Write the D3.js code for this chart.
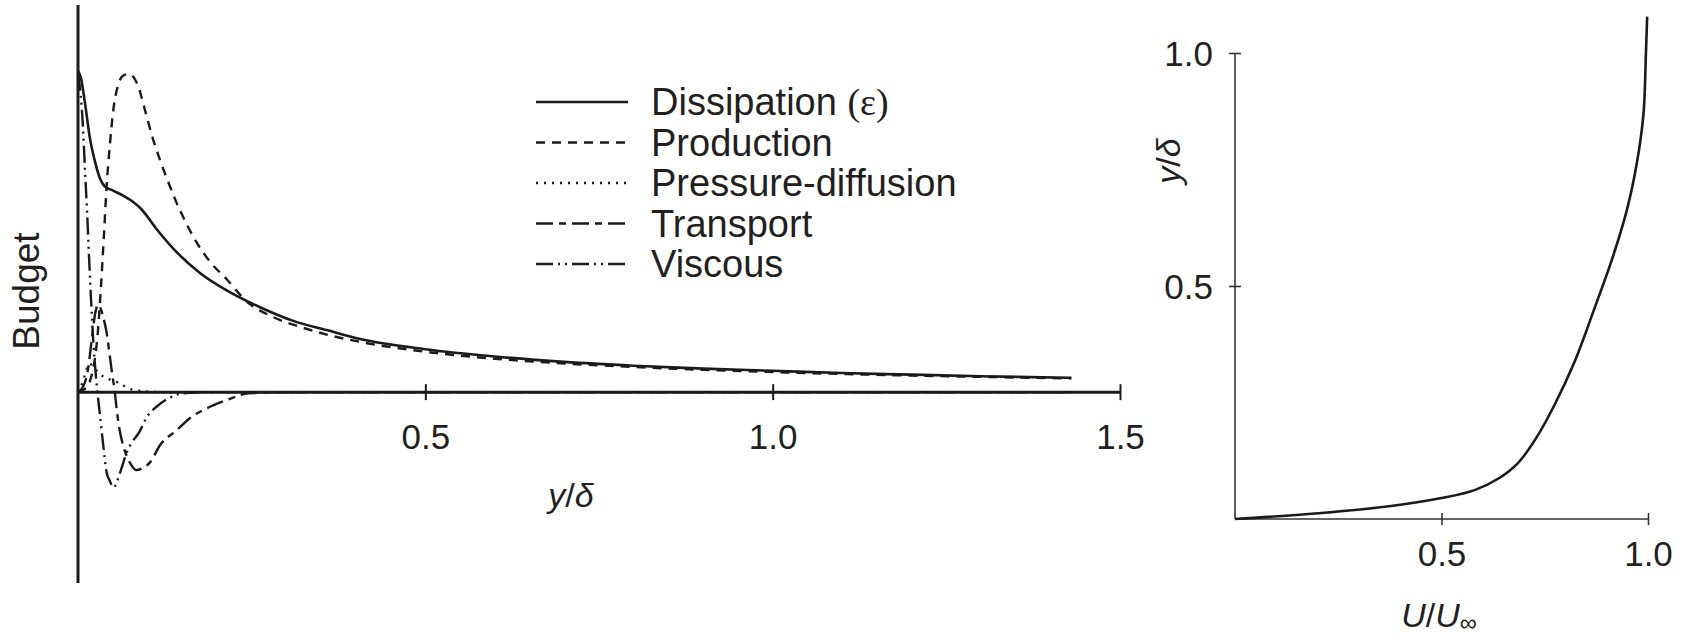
<!DOCTYPE html>
<html><head><meta charset="utf-8">
<script src="https://cdn.jsdelivr.net/npm/d3@7"></script>
<style>
html,body{margin:0;padding:0;background:#fff;}
svg{display:block;font-family:"Liberation Sans",Arial,sans-serif;}
</style></head>
<body>
<svg id="chart" width="1690" height="637"></svg>
<script>
// ---------- data: left panel (turbulent kinetic energy budget vs y/delta) ----------
const xTicksLeft = [0.5, 1.0, 1.5];
const xTickLabelsLeft = ["0.5", "1.0", "1.5"];

const dissX = [0, 0.004, 0.01, 0.017, 0.025, 0.032, 0.038, 0.05, 0.065, 0.078, 0.09, 0.113, 0.142, 0.176, 0.214, 0.262, 0.31, 0.358, 0.406, 0.5, 0.6, 0.7, 0.8, 0.9, 1.0, 1.1, 1.2, 1.3, 1.43];
const dissY = [1.01, 0.99, 0.91, 0.80, 0.72, 0.67, 0.648, 0.634, 0.618, 0.60, 0.578, 0.513, 0.44, 0.374, 0.32, 0.267, 0.224, 0.195, 0.167, 0.135, 0.112, 0.095, 0.083, 0.074, 0.067, 0.06, 0.055, 0.05, 0.045];

const prodX = [0, 0.01, 0.018, 0.024, 0.029, 0.033, 0.037, 0.041, 0.046, 0.051, 0.057, 0.065, 0.073, 0.08, 0.087, 0.096, 0.106, 0.118, 0.13, 0.142, 0.156, 0.171, 0.19, 0.214, 0.243, 0.28, 0.32, 0.36, 0.406, 0.5, 0.6, 0.7, 0.8, 0.9, 1.0, 1.1, 1.2, 1.3, 1.43];
const prodY = [0, 0.01, 0.04, 0.1, 0.2, 0.33, 0.48, 0.64, 0.78, 0.89, 0.96, 0.995, 1.0, 0.99, 0.96, 0.89, 0.81, 0.73, 0.66, 0.595, 0.53, 0.47, 0.41, 0.355, 0.285, 0.237, 0.205, 0.18, 0.158, 0.127, 0.105, 0.09, 0.079, 0.07, 0.063, 0.057, 0.052, 0.048, 0.043];

const presX = [0, 0.008, 0.012, 0.017, 0.022, 0.03, 0.045, 0.06, 0.072, 0.09, 0.12, 0.3, 0.6, 1.0, 1.43];
const presY = [0, 0.04, 0.07, 0.09, 0.08, 0.06, 0.04, 0.028, 0.012, 0.004, 0, 0, 0, 0, 0];

const transX = [0, 0.008, 0.015, 0.02, 0.025, 0.029, 0.033, 0.037, 0.041, 0.046, 0.049, 0.053, 0.056, 0.06, 0.064, 0.07, 0.077, 0.084, 0.092, 0.104, 0.118, 0.142, 0.161, 0.19, 0.214, 0.245, 0.3, 0.5, 0.8, 1.0, 1.2, 1.43];
const transY = [0, 0.02, 0.08, 0.17, 0.25, 0.275, 0.26, 0.23, 0.19, 0.11, 0.06, 0.0, -0.06, -0.12, -0.16, -0.20, -0.23, -0.245, -0.24, -0.22, -0.167, -0.12, -0.082, -0.046, -0.025, -0.004, 0, 0, 0, 0, 0, 0];

const viscX = [0, 0.004, 0.007, 0.01, 0.013, 0.016, 0.019, 0.022, 0.025, 0.028, 0.032, 0.036, 0.041, 0.046, 0.051, 0.058, 0.064, 0.07, 0.077, 0.087, 0.101, 0.113, 0.13, 0.145, 0.17, 0.2, 0.4, 0.7, 1.0, 1.43];
const viscY = [1.0, 0.93, 0.84, 0.70, 0.57, 0.42, 0.28, 0.16, 0.07, 0.0, -0.08, -0.16, -0.25, -0.28, -0.30, -0.27, -0.23, -0.19, -0.16, -0.13, -0.072, -0.046, -0.02, -0.006, -0.001, 0, 0, 0, 0, 0];

const seriesNames = ["Dissipation", "Production", "Pressure-diffusion", "Transport", "Viscous"];

// ---------- data: right panel (mean velocity profile) ----------
const velU = [0, 0.21, 0.378, 0.5, 0.58, 0.64, 0.685, 0.728, 0.772, 0.822, 0.87, 0.912, 0.948, 0.973, 0.989, 0.995, 0.998];
const velY = [0, 0.013, 0.028, 0.045, 0.062, 0.088, 0.12, 0.172, 0.242, 0.337, 0.451, 0.555, 0.66, 0.764, 0.869, 1.0, 1.078];
const xTicksRight = [0.5, 1.0];
const yTicksRight = [0.5, 1.0];

// ---------- drawing ----------
const svg = d3.select("#chart");
const ink = "#1a1a1a";
const textCol = "#231f20";

const xL = d3.scaleLinear().domain([0, 1.5]).range([78, 1120]);
const yL = d3.scaleLinear().domain([-0.6, 1.217]).range([583, 5]);

const left = svg.append("g");

const axL = left.append("g").attr("transform", `translate(0,${yL(0)})`)
  .call(d3.axisBottom(xL).tickValues(xTicksLeft).tickFormat((d, i) => xTickLabelsLeft[i]).tickSizeOuter(0));
axL.select(".domain").remove();
axL.selectAll(".tick line").attr("y1", -8).attr("y2", 8).attr("stroke", ink).attr("stroke-width", 2);
axL.selectAll(".tick text").attr("y", 57).attr("dy", null).attr("font-size", 35)
  .attr("font-family", "Liberation Sans, Arial, sans-serif").attr("fill", textCol);

left.append("line").attr("x1", xL(0)).attr("x2", xL(1.5)).attr("y1", yL(0)).attr("y2", yL(0))
  .attr("stroke", ink).attr("stroke-width", 3);
left.append("line").attr("x1", xL(0)).attr("x2", xL(0)).attr("y1", yL(-0.6)).attr("y2", yL(1.217))
  .attr("stroke", ink).attr("stroke-width", 3);

const styles = {
  "Dissipation": {x: dissX, y: dissY, dash: null},
  "Production": {x: prodX, y: prodY, dash: "9,7"},
  "Pressure-diffusion": {x: presX, y: presY, dash: "2,6"},
  "Transport": {x: transX, y: transY, dash: "17,6,7,6"},
  "Viscous": {x: viscX, y: viscY, dash: "17,5,2,5,2,5"}
};

const lineL = d3.line().x(d => xL(d[0])).y(d => yL(d[1])).curve(d3.curveMonotoneX);
seriesNames.forEach(n => {
  const s = styles[n];
  const pts = s.x.map((v, i) => [v, s.y[i]]);
  left.append("path").attr("d", lineL(pts)).attr("fill", "none")
    .attr("stroke", ink).attr("stroke-width", n === "Dissipation" ? 2.6 : 2.4)
    .attr("stroke-dasharray", s.dash);
});

const yLab = left.append("text").attr("x", 571).attr("y", 507).attr("text-anchor", "middle")
  .attr("font-size", 34).attr("fill", textCol);
yLab.append("tspan").attr("font-style", "italic").text("y");
yLab.append("tspan").text("/");
yLab.append("tspan").attr("font-style", "italic").text("δ");

left.append("text").attr("transform", "translate(39,291) rotate(-90)").attr("text-anchor", "middle")
  .attr("font-size", 37).attr("fill", textCol).text("Budget");

const legend = left.append("g");
const legLabels = [["Dissipation ", "(ε)"], ["Production"], ["Pressure-diffusion"], ["Transport"], ["Viscous"]];
seriesNames.forEach((n, i) => {
  const yy = 102 + i * 40.5;
  legend.append("line").attr("x1", 536).attr("x2", 628).attr("y1", yy).attr("y2", yy)
    .attr("stroke", ink).attr("stroke-width", 2.6).attr("stroke-dasharray", styles[n].dash);
  const t = legend.append("text").attr("x", 651).attr("y", yy + 13).attr("font-size", 38).attr("fill", textCol);
  t.append("tspan").text(legLabels[i][0]);
  if (legLabels[i][1]) t.append("tspan").attr("font-family", "Liberation Serif, serif").text(legLabels[i][1]);
});

// Right panel
const xR = d3.scaleLinear().domain([0, 1]).range([1235, 1648]);
const yR = d3.scaleLinear().domain([0, 1]).range([519, 53]);
const right = svg.append("g");

const axRx = right.append("g").attr("transform", `translate(0,${yR(0)})`)
  .call(d3.axisBottom(xR).tickValues(xTicksRight).tickFormat(d3.format(".1f")).tickSizeOuter(0));
axRx.select(".domain").remove();
axRx.selectAll(".tick line").attr("y1", -6).attr("y2", 6).attr("stroke", "#333").attr("stroke-width", 1.6);
axRx.selectAll(".tick text").attr("y", 47).attr("dy", null).attr("font-size", 35)
  .attr("font-family", "Liberation Sans, Arial, sans-serif").attr("fill", textCol);

const axRy = right.append("g").attr("transform", `translate(${xR(0)},0)`)
  .call(d3.axisLeft(yR).tickValues(yTicksRight).tickFormat(d3.format(".1f")).tickSizeOuter(0));
axRy.select(".domain").remove();
axRy.selectAll(".tick line").attr("x1", -6).attr("x2", 6).attr("stroke", "#333").attr("stroke-width", 1.6);
axRy.selectAll(".tick text").attr("x", -22).attr("dy", "0.36em").attr("font-size", 35)
  .attr("font-family", "Liberation Sans, Arial, sans-serif").attr("fill", textCol);

right.append("line").attr("x1", xR(0)).attr("x2", xR(1)).attr("y1", yR(0)).attr("y2", yR(0))
  .attr("stroke", "#333").attr("stroke-width", 1.6);
right.append("line").attr("x1", xR(0)).attr("x2", xR(0)).attr("y1", yR(0)).attr("y2", yR(1))
  .attr("stroke", "#333").attr("stroke-width", 1.6);

const lineR = d3.line().x(d => xR(d[0])).y(d => yR(d[1])).curve(d3.curveCatmullRom.alpha(0.5));
right.append("path").attr("d", lineR(velU.map((u, i) => [u, velY[i]])))
  .attr("fill", "none").attr("stroke", ink).attr("stroke-width", 2.6);

const ryLab = right.append("text").attr("transform", "translate(1180,161) rotate(-90)").attr("text-anchor", "middle")
  .attr("font-size", 34).attr("fill", textCol);
ryLab.append("tspan").attr("font-style", "italic").text("y");
ryLab.append("tspan").text("/");
ryLab.append("tspan").attr("font-style", "italic").text("δ");

const rxLab = right.append("text").attr("x", 1439).attr("y", 627).attr("text-anchor", "middle")
  .attr("font-size", 34).attr("fill", textCol);
rxLab.append("tspan").attr("font-style", "italic").text("U");
rxLab.append("tspan").text("/");
rxLab.append("tspan").attr("font-style", "italic").text("U");
rxLab.append("tspan").attr("font-size", 24).attr("dy", 4).text("∞");
</script>
</body></html>
